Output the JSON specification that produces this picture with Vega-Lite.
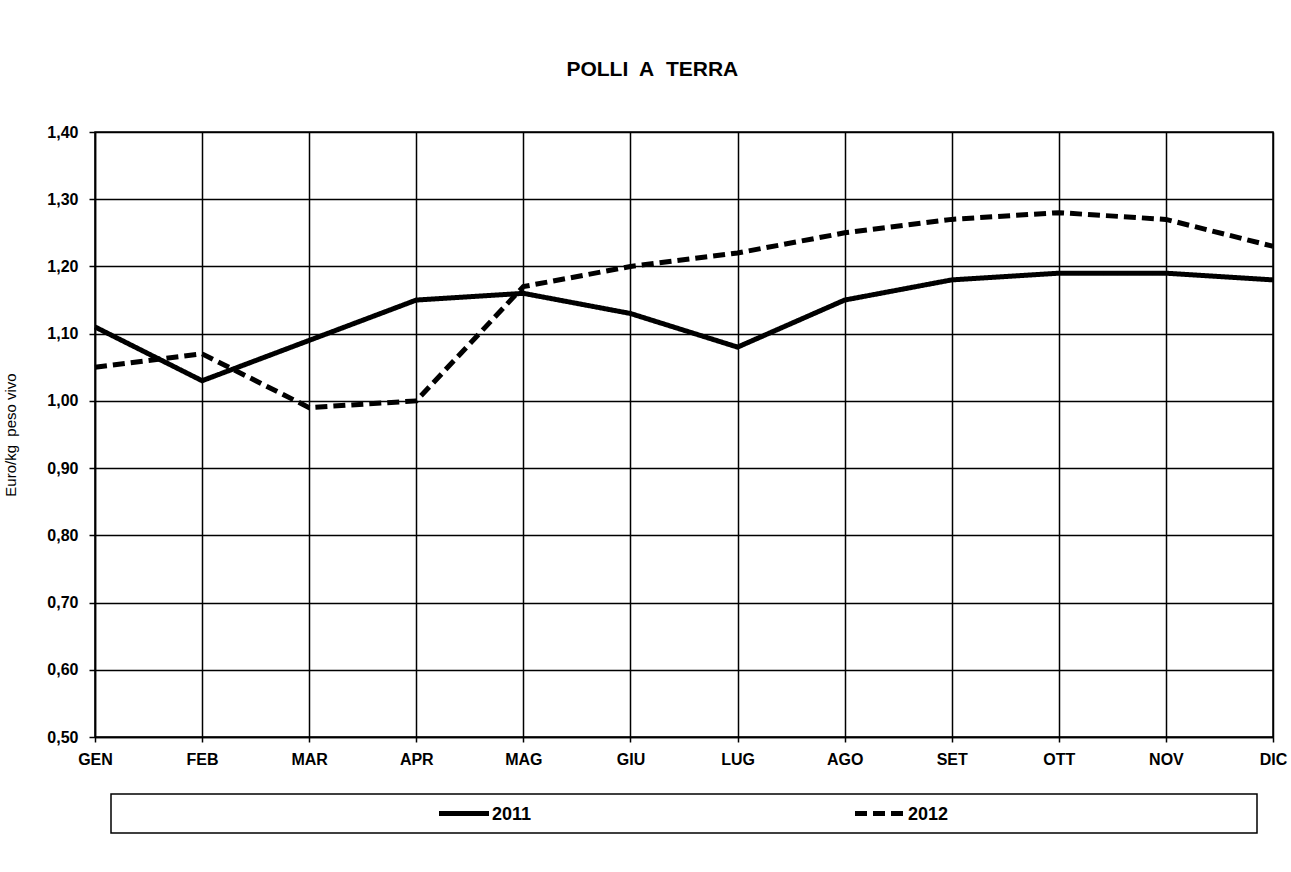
{
  "$schema": "https://vega.github.io/schema/vega-lite/v6.json",
  "padding": {"left": 3, "top": 59, "right": 0, "bottom": 0},
  "background": "white",
  "config": {
    "font": "Liberation Sans",
    "locale": {"number": {"decimal": ",", "thousands": ".", "grouping": [3], "currency": ["€", ""]}},
    "view": {"stroke": "black", "strokeWidth": 1.5}
  },
  "title": {
    "text": "POLLI\u00a0 A\u00a0 TERRA",
    "font": "Liberation Sans",
    "fontSize": 21,
    "fontWeight": "bold",
    "color": "black",
    "frame": "bounds",
    "anchor": "middle",
    "offset": 43,
    "dx": 7
  },
  "datasets": {
    "prices": [
      {"month": "GEN", "year": "2011", "value": 1.11},
      {"month": "FEB", "year": "2011", "value": 1.03},
      {"month": "MAR", "year": "2011", "value": 1.09},
      {"month": "APR", "year": "2011", "value": 1.15},
      {"month": "MAG", "year": "2011", "value": 1.16},
      {"month": "GIU", "year": "2011", "value": 1.13},
      {"month": "LUG", "year": "2011", "value": 1.08},
      {"month": "AGO", "year": "2011", "value": 1.15},
      {"month": "SET", "year": "2011", "value": 1.18},
      {"month": "OTT", "year": "2011", "value": 1.19},
      {"month": "NOV", "year": "2011", "value": 1.19},
      {"month": "DIC", "year": "2011", "value": 1.18},
      {"month": "GEN", "year": "2012", "value": 1.05},
      {"month": "FEB", "year": "2012", "value": 1.07},
      {"month": "MAR", "year": "2012", "value": 0.99},
      {"month": "APR", "year": "2012", "value": 1.00},
      {"month": "MAG", "year": "2012", "value": 1.17},
      {"month": "GIU", "year": "2012", "value": 1.20},
      {"month": "LUG", "year": "2012", "value": 1.22},
      {"month": "AGO", "year": "2012", "value": 1.25},
      {"month": "SET", "year": "2012", "value": 1.27},
      {"month": "OTT", "year": "2012", "value": 1.28},
      {"month": "NOV", "year": "2012", "value": 1.27},
      {"month": "DIC", "year": "2012", "value": 1.23}
    ],
    "series": [
      {"year": "2011"},
      {"year": "2012"}
    ]
  },
  "bounds": "flush",
  "center": true,
  "spacing": 57,
  "vconcat": [
    {
      "width": 1178,
      "height": 605,
      "data": {"name": "prices"},
      "mark": {"type": "line", "strokeWidth": 5, "color": "black", "strokeCap": "butt", "strokeJoin": "miter"},
      "encoding": {
        "x": {
          "field": "month",
          "type": "ordinal",
          "sort": ["GEN", "FEB", "MAR", "APR", "MAG", "GIU", "LUG", "AGO", "SET", "OTT", "NOV", "DIC"],
          "scale": {"type": "point", "padding": 0},
          "axis": {
            "title": null,
            "labelAngle": 0,
            "labelFont": "Liberation Sans",
            "labelFontSize": 16,
            "labelFontWeight": "bold",
            "labelColor": "black",
            "labelPadding": 9,
            "tickSize": 5,
            "tickColor": "black",
            "tickWidth": 1.5,
            "domainColor": "black",
            "domainWidth": 1.5,
            "grid": true,
            "gridColor": "black",
            "gridWidth": 1.5,
            "gridOpacity": 1
          }
        },
        "y": {
          "field": "value",
          "type": "quantitative",
          "scale": {"domain": [0.5, 1.4], "zero": false, "nice": false},
          "axis": {
            "title": "Euro/kg\u00a0 peso vivo",
            "titleFont": "Liberation Sans",
            "titleFontSize": 15,
            "titleFontWeight": "normal",
            "titleColor": "black",
            "titlePadding": 28,
            "values": [0.5, 0.6, 0.7, 0.8, 0.9, 1.0, 1.1, 1.2, 1.3, 1.4],
            "format": ".2f",
            "labelFont": "Liberation Sans",
            "labelFontSize": 16,
            "labelFontWeight": "bold",
            "labelColor": "black",
            "labelPadding": 11,
            "tickSize": 6,
            "tickColor": "black",
            "tickWidth": 1.5,
            "domainColor": "black",
            "domainWidth": 1.5,
            "grid": true,
            "gridColor": "black",
            "gridWidth": 1.5,
            "gridOpacity": 1
          }
        },
        "detail": {"field": "year"},
        "strokeDash": {
          "field": "year",
          "type": "nominal",
          "scale": {"domain": ["2011", "2012"], "range": [[1, 0], [12, 6]]},
          "legend": null
        }
      }
    },
    {
      "width": 1146,
      "height": 39,
      "data": {"name": "series"},
      "layer": [
        {
          "mark": {"type": "point", "shape": "M-1,0L1,0", "filled": false, "size": 2500, "strokeWidth": 5, "color": "black", "opacity": 1},
          "encoding": {
            "x": {"field": "year", "type": "nominal", "scale": {"type": "point", "padding": 0, "range": [353, 769]}, "axis": null},
            "strokeDash": {
              "field": "year",
              "type": "nominal",
              "scale": {"domain": ["2011", "2012"], "range": [[1, 0], [14, 8, 14, 9, 5, 50]]},
              "legend": null
            }
          }
        },
        {
          "mark": {"type": "text", "align": "left", "baseline": "middle", "dx": 28, "dy": 1, "font": "Liberation Sans", "fontSize": 18, "fontWeight": "bold", "color": "black"},
          "encoding": {
            "x": {"field": "year", "type": "nominal", "scale": {"type": "point", "padding": 0, "range": [353, 769]}, "axis": null},
            "text": {"field": "year"}
          }
        }
      ]
    }
  ]
}
